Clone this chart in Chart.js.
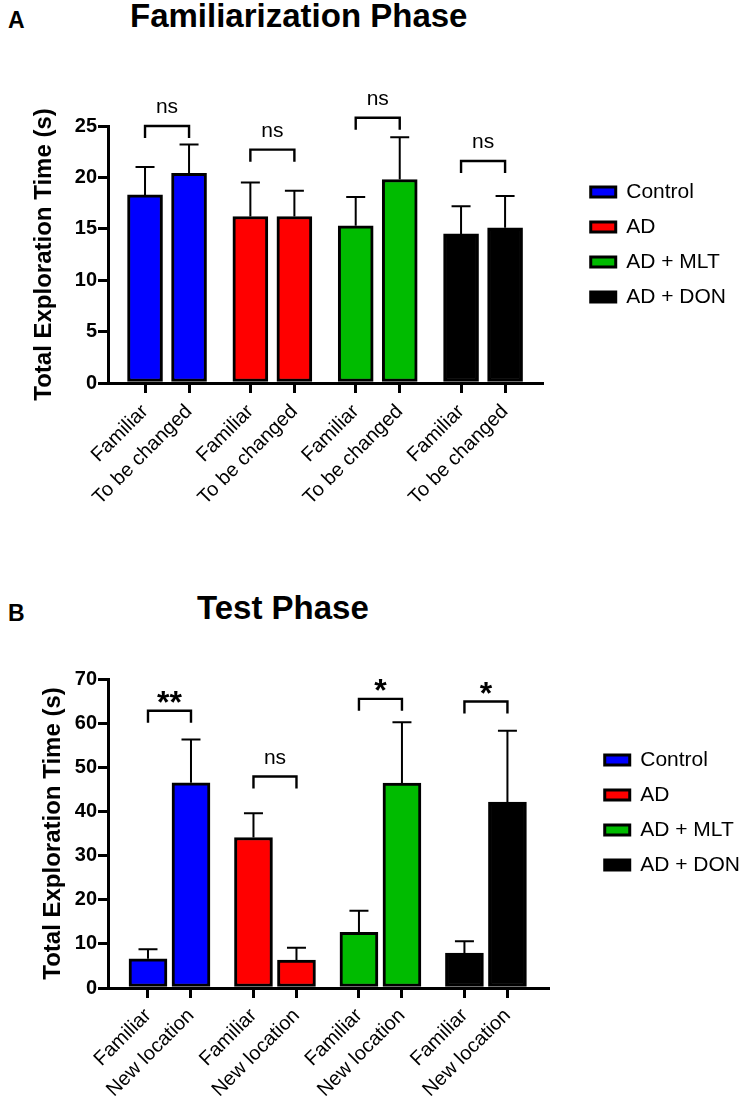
<!DOCTYPE html>
<html>
<head>
<meta charset="utf-8">
<script src="https://cdn.jsdelivr.net/npm/chart.js"></script>
<style>
  body { margin: 0; width: 750px; height: 1106px; position: relative; background: #fff; overflow: hidden;
         font-family: "Liberation Sans", Arial, Helvetica, sans-serif; }
  .panel { position: absolute; left: 8px; font-weight: bold; font-size: 23px; line-height: 23px; }
  .title { position: absolute; font-weight: bold; font-size: 33px; line-height: 33px; white-space: nowrap; }
  .wrap { position: absolute; left: 0; width: 750px; }
</style>
</head>
<body>
<div class="panel" style="top:9px">A</div>
<div class="title" style="left:130px; top:-1px">Familiarization Phase</div>
<div class="wrap" style="top:40px; height:490px"><canvas id="chartA"></canvas></div>

<div class="panel" style="top:602px">B</div>
<div class="title" style="left:197px; top:591px">Test Phase</div>
<div class="wrap" style="top:630px; height:476px"><canvas id="chartB"></canvas></div>

<script>
// groups shared by both panels
const groups = ['Control', 'AD', 'AD + MLT', 'AD + DON'];
const groupColors = ['#0000ff', '#ff0000', '#00bb00', '#000000'];

// A - familiarization phase (mean, SEM per bar, two bars per group)
const famLabels = ['Familiar', 'To be changed'];
const famMeans = [18.3, 20.4, 16.2, 16.2, 15.3, 19.8, 14.5, 15.1];
const famSem = [2.7, 2.8, 3.3, 2.5, 2.8, 4.1, 2.7, 3.1];
const famSig = ['ns', 'ns', 'ns', 'ns'];
const famSigLevel = [25.0, 22.7, 25.8, 21.6];

// B - test phase
const testLabels = ['Familiar', 'New location'];
const testMeans = [6.6, 46.5, 34.1, 6.3, 12.6, 46.4, 7.9, 42.1];
const testSem = [2.2, 9.8, 5.5, 2.8, 4.9, 13.8, 2.7, 16.2];
const testSig = ['**', 'ns', '*', '*'];
const testSigLevel = [62.8, 47.9, 65.5, 64.9];

const FONT = '"Liberation Sans", Arial, Helvetica, sans-serif';
Chart.defaults.font.family = FONT;
Chart.defaults.color = '#000';

// error bars (upward only) and significance brackets
const annotate = {
    id: 'annotate',
    afterDatasetsDraw(chart, args, opts) {
        const ctx = chart.ctx;
        const y = chart.scales.y;
        ctx.save();
        ctx.strokeStyle = '#000';
        ctx.fillStyle = '#000';
        chart.data.datasets.forEach((ds, d) => {
            chart.getDatasetMeta(d).data.forEach((bar, j) => {
                const top = y.getPixelForValue(ds.data[j].y + ds.errors[j]);
                ctx.lineWidth = 2;
                ctx.beginPath();
                ctx.moveTo(bar.x, bar.y);
                ctx.lineTo(bar.x, top);
                ctx.moveTo(bar.x - 9.5, top);
                ctx.lineTo(bar.x + 9.5, top);
                ctx.stroke();
            });
        });
        opts.labels.forEach((txt, g) => {
            const bars = chart.getDatasetMeta(g).data;
            const x1 = bars[0].x, x2 = bars[1].x;
            const yb = y.getPixelForValue(opts.levels[g]);
            ctx.lineWidth = 2.4;
            ctx.beginPath();
            ctx.moveTo(x1, yb + 12);
            ctx.lineTo(x1, yb);
            ctx.lineTo(x2, yb);
            ctx.lineTo(x2, yb + 12);
            ctx.stroke();
            const star = txt.includes('*');
            ctx.font = (star ? 'bold 32px ' : '21px ') + FONT;
            ctx.textAlign = 'center';
            ctx.textBaseline = 'alphabetic';
            ctx.fillText(txt, (x1 + x2) / 2, star ? yb + 2 : yb - 13);
        });
        ctx.restore();
    }
};

function drawPanel(id, labels, means, sems, sig, sigLevel, p) {
    const slot = i => Math.floor(i / 2) * p.groupStep + (i % 2);
    const positions = means.map((m, i) => slot(i));

    const datasets = groups.map((name, g) => ({
        label: name,
        data: [0, 1].map(k => ({ x: slot(2 * g + k), y: means[2 * g + k] })),
        errors: sems.slice(2 * g, 2 * g + 2),
        backgroundColor: groupColors[g],
        borderColor: '#000',
        borderWidth: 3,
        borderSkipped: false,
        barThickness: p.barThickness,
        grouped: false,
        yAxisID: 'y'
    }));

    const ctx = document.getElementById(id).getContext('2d');
    return new Chart(ctx, {
        type: 'bar',
        data: { datasets },
        plugins: [annotate],
        options: {
            animation: false,
            responsive: true,
            maintainAspectRatio: false,
            events: [],
            layout: { padding: { top: p.padTop, right: p.padRight, left: 0, bottom: 0 } },
            scales: {
                x: {
                    type: 'linear',
                    position: 'bottom',
                    min: p.xMin,
                    max: p.xMax,
                    offset: false,
                    afterBuildTicks: axis => { axis.ticks = positions.map(v => ({ value: v })); },
                    afterFit: s => { s.height = p.xHeight; },
                    grid: { offset: false, drawOnChartArea: false, color: '#000', lineWidth: 3, tickLength: 10 },
                    border: { color: '#000', width: 3 },
                    ticks: {
                        autoSkip: false,
                        minRotation: 45,
                        maxRotation: 45,
                        padding: p.xTickPad,
                        font: { size: 20 },
                        callback: (v, i) => labels[i % 2]
                    }
                },
                y: {
                    type: 'linear',
                    position: 'left',
                    min: 0,
                    max: p.yMax,
                    afterFit: s => { s.width = 108; },
                    grid: { drawOnChartArea: false, color: '#000', lineWidth: 3, tickLength: 10 },
                    border: { color: '#000', width: 3 },
                    ticks: { stepSize: p.yStep, padding: 1, font: { size: 20, weight: 'bold' } },
                    title: {
                        display: true,
                        text: 'Total Exploration Time (s)',
                        font: { size: 24, weight: 'bold' },
                        padding: { top: p.yTitlePad, bottom: 0 }
                    }
                },
                // hidden spacer between the plot and the legend
                gap: {
                    type: 'linear',
                    position: 'right',
                    display: false,
                    afterFit: s => { s.width = p.gapWidth; }
                }
            },
            plugins: {
                tooltip: { enabled: false },
                legend: {
                    position: 'right',
                    align: 'start',
                    fullSize: false,
                    title: { display: true, text: '', padding: { top: p.legendTop, bottom: 0 } },
                    labels: { boxWidth: 25, boxHeight: 10, padding: 14, color: '#000', font: { size: 21 } }
                },
                annotate: { labels: sig, levels: sigLevel }
            }
        }
    });
}

drawPanel('chartA', famLabels, famMeans, famSem, famSig, famSigLevel, {
    padTop: 86, padRight: 14, xHeight: 147, gapWidth: 34.5, barThickness: 35,
    groupStep: 2.393, xMin: -0.841, xMax: 9.023, yMax: 25, yStep: 5,
    legendTop: 27, yTitlePad: 30, xTickPad: 7
});

drawPanel('chartB', testLabels, testMeans, testSem, testSig, testSigLevel, {
    padTop: 49, padRight: 0, xHeight: 118, gapWidth: 42.7, barThickness: 38,
    groupStep: 2.453, xMin: -0.930, xMax: 9.303, yMax: 70, yStep: 10,
    legendTop: 42, yTitlePad: 39, xTickPad: 6
});
</script>
</body>
</html>
